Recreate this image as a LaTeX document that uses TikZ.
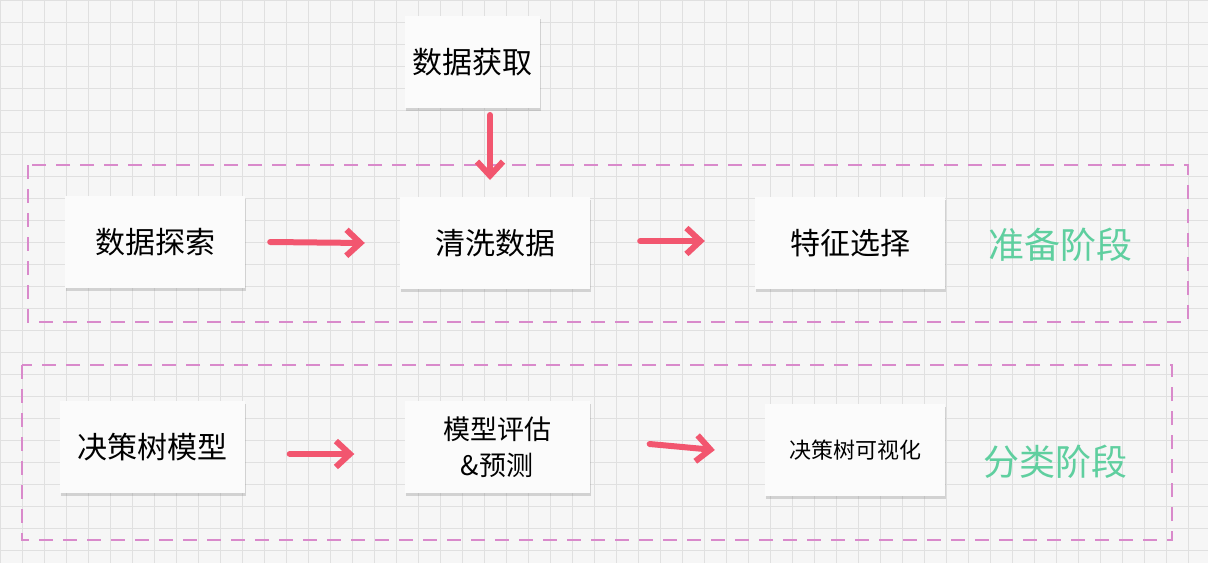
\documentclass[tikz,border=0pt]{standalone}
\usepackage{fontspec}
\newfontfamily\cjk{Noto Sans CJK SC}
\usetikzlibrary{shadows,arrows.meta}
\definecolor{pinkc}{HTML}{F2566F}
\definecolor{dashc}{HTML}{D98ACB}
\definecolor{greenc}{HTML}{5FCF9F}
\definecolor{gridc}{HTML}{E0E0E0}
\definecolor{bgc}{HTML}{F6F6F6}
\tikzset{
 paper/.style={fill=white!97!gray, draw=none, minimum width=#1, minimum height=92pt, font=\cjk\fontsize{30}{36}\selectfont, align=center, drop shadow={shadow xshift=1pt,shadow yshift=-3pt,opacity=0.3,fill=gray}},
 arr/.style={pinkc, line width=6pt, -{Straight Barb[length=14pt,width=26pt,line width=6pt]}, line cap=round},
 phase/.style={dashc, dashed, dash pattern=on 14pt off 10pt, line width=2.5pt},
 plabel/.style={greenc, font=\cjk\fontsize{36}{42}\selectfont}
}
\begin{document}
\begin{tikzpicture}[x=1pt,y=-1pt]
\useasboundingbox (0,0) rectangle (1208,563);
\fill[bgc] (0,0) rectangle (1208,563);
\foreach \i in {0,...,55} {\draw[gridc, line width=0.8pt] (\i*22,0) -- (\i*22,563);}
\foreach \j in {0,...,25} {\draw[gridc, line width=0.8pt] (0,\j*22) -- (1208,\j*22);}
\draw[phase] (28,165) rectangle (1188,322);
\draw[phase] (22,365) rectangle (1172,540);
\node[paper=135pt] (get) at (472,62) {数据获取};
\node[paper=180pt] (exp) at (155,242) {数据探索};
\node[paper=190pt] (clean) at (495,243) {清洗数据};
\node[paper=190pt] (feat) at (850,243) {特征选择};
\node[paper=185pt] (model) at (152,447) {决策树模型};
\node[paper=185pt, font=\cjk\fontsize{27}{36}\selectfont] (eval) at (497,447) {模型评估\\\&预测};
\node[paper=180pt, font=\cjk\fontsize{22}{28}\selectfont] (vis) at (855,450) {决策树可视化};
\node[plabel] (p1) at (1060,245) {准备阶段};
\node[plabel] (p2) at (1055,462) {分类阶段};
\coordinate (g1) at (490,115);
\coordinate (g2) at (490,180);
\draw[arr] (g1) -- (g2);
\draw[arr] ([xshift=25pt]exp.east) -- ([xshift=-35pt]clean.west);
\draw[arr] ([xshift=50pt,yshift=2pt]clean.east) -- ([xshift=-50pt,yshift=2pt]feat.west);
\draw[arr] ([xshift=45pt,yshift=-7pt]model.east) -- ([xshift=-50pt,yshift=-7pt]eval.west);
\draw[arr] ([xshift=60pt,yshift=3pt]eval.east) -- ([xshift=-50pt]vis.west);
\end{tikzpicture}
\end{document}
